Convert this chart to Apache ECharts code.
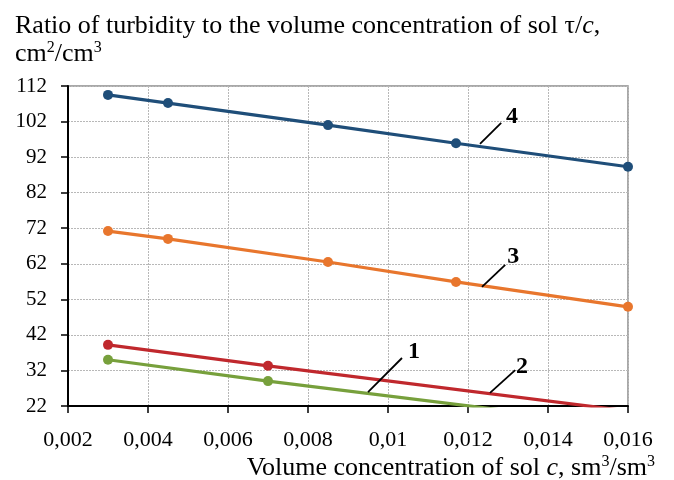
<!DOCTYPE html>
<html>
<head>
<meta charset="utf-8">
<script src="https://cdn.jsdelivr.net/npm/echarts@6/dist/echarts.min.js"></script>
<style>
  html, body { margin: 0; padding: 0; background: #fff; }
  #chart { width: 674px; height: 480px; }
</style>
</head>
<body>
<div id="chart"></div>
<script>
// curve 1 (green), curve 2 (red), curve 3 (orange), curve 4 (blue)
const curve1 = [[0.003, 35.0], [0.007, 29.0], [0.016, 16.5]];
const curve2 = [[0.003, 39.2], [0.007, 33.3], [0.016, 20.6]];
const curve3 = [[0.003, 71.2], [0.0045, 69.0], [0.0085, 62.5], [0.0117, 56.9], [0.016, 49.9]];
const curve4 = [[0.003, 109.5], [0.0045, 107.2], [0.0085, 101.0], [0.0117, 95.9], [0.016, 89.3]];

const xTicks = { min: 0.002, max: 0.016, step: 0.002 };
const yTicks = { min: 22, max: 112, step: 10 };

// curve labels: text, leader start, leader end, label position (data coords)
const curveLabels = [
    { text: '1', from: [0.0095, 25.9], to: [0.01035, 35.5], at: [0.01065, 37.3] },
    { text: '2', from: [0.01255, 25.7], to: [0.01318, 32.1], at: [0.01335, 32.9] },
    { text: '3', from: [0.01235, 55.5], to: [0.01293, 61.7], at: [0.01313, 63.9] },
    { text: '4', from: [0.0123, 95.7], to: [0.01283, 101.6], at: [0.0131, 103.4] }
];

const font = '"Liberation Serif", "Times New Roman", serif';

const chart = echarts.init(document.getElementById('chart'));

const lineSeries = (data, color) => ({
    type: 'line',
    data: data,
    symbol: 'circle',
    symbolSize: 10,
    clip: true,
    lineStyle: { color: color, width: 3.2 },
    itemStyle: { color: color },
    z: 3
});

const titleStyle = {
    fontFamily: font, fontSize: 26, fontWeight: 'normal', color: '#000', lineHeight: 28,
    rich: {
        i: { fontFamily: font, fontSize: 26, fontStyle: 'italic', color: '#000' },
        sup: { fontFamily: font, fontSize: 16, color: '#000', verticalAlign: 'top', lineHeight: 16 }
    }
};

chart.setOption({
    animation: false,
    backgroundColor: '#fff',
    title: [{
        left: 10,
        top: 7,
        text: 'Ratio of turbidity to the volume concentration of sol τ/{i|c},\ncm{sup|2}/cm{sup|3}',
        textStyle: titleStyle
    }, {
        right: 14,
        top: 449,
        text: 'Volume concentration of sol {i|c}, sm{sup|3}/sm{sup|3}',
        textStyle: titleStyle
    }],
    grid: {
        left: 68, right: 46, top: 86, bottom: 74,
        show: true, borderColor: '#8c8c8c', borderWidth: 1.5
    },
    xAxis: {
        type: 'value',
        min: xTicks.min, max: xTicks.max, interval: xTicks.step,
        axisLine: { lineStyle: { color: '#000', width: 2 } },
        axisTick: { show: true, length: 7, lineStyle: { color: '#000', width: 1.5 } },
        axisLabel: {
            margin: 23, fontFamily: font, fontSize: 22, color: '#000',
            formatter: v => String(+v.toFixed(4)).replace('.', ',')
        },
        splitLine: { show: true, lineStyle: { color: '#b8b8b8', type: [2, 1], width: 1 } }
    },
    yAxis: {
        type: 'value',
        min: yTicks.min, max: yTicks.max, interval: yTicks.step,
        axisLine: { show: true, lineStyle: { color: '#000', width: 2 } },
        axisTick: { show: true, length: 7, lineStyle: { color: '#000', width: 1.5 } },
        axisLabel: { margin: 21, fontFamily: font, fontSize: 21, color: '#000' },
        splitLine: { show: true, lineStyle: { color: '#b8b8b8', type: [2, 1], width: 1 } }
    },
    series: [
        lineSeries(curve1, '#77a03c'),
        lineSeries(curve2, '#c0282d'),
        lineSeries(curve3, '#e8762d'),
        lineSeries(curve4, '#1f4e79')
    ]
});

// leader lines and curve numbers, placed through the grid's scales
const graphics = [];
curveLabels.forEach(l => {
    const a = chart.convertToPixel('grid', l.from);
    const b = chart.convertToPixel('grid', l.to);
    const c = chart.convertToPixel('grid', l.at);
    graphics.push({
        type: 'line', z: 10,
        shape: { x1: a[0], y1: a[1], x2: b[0], y2: b[1] },
        style: { stroke: '#000', lineWidth: 1.8 }
    });
    graphics.push({
        type: 'text', z: 10, x: c[0], y: c[1],
        style: {
            text: l.text, fill: '#000', font: 'bold 24px ' + font,
            align: 'center', verticalAlign: 'middle'
        }
    });
});
chart.setOption({ graphic: graphics });
</script>
</body>
</html>
